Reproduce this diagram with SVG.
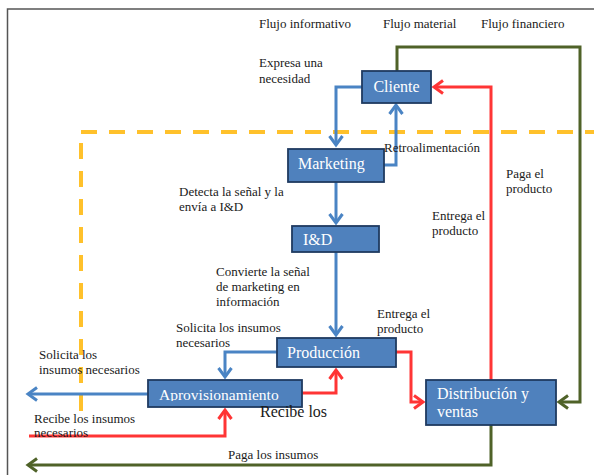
<svg xmlns="http://www.w3.org/2000/svg" width="594" height="475" viewBox="0 0 594 475">
<style>
.lbl{font-family:"Liberation Serif","Times New Roman",serif;font-size:13px;fill:#1a1a1a}
.box{fill:#4F81BD;stroke:#1F3A60;stroke-width:1.8}
.bt{font-family:"Liberation Serif","Times New Roman",serif;font-size:16px;fill:#ffffff}
.c{fill:none;stroke-width:3;stroke-linejoin:miter}
.b{stroke:#4A84C4}
.r{stroke:#FF3535}
.g{stroke:#4F6228}
</style>
<defs>
<marker id="ab" markerUnits="userSpaceOnUse" markerWidth="20" markerHeight="20" orient="auto" overflow="visible"><path d="M-9,-6.5 L0,0 L-9,6.5" fill="none" stroke="#4A84C4" stroke-width="3"/></marker>
<marker id="ar" markerUnits="userSpaceOnUse" markerWidth="20" markerHeight="20" orient="auto" overflow="visible"><path d="M-9,-6.5 L0,0 L-9,6.5" fill="none" stroke="#FF3535" stroke-width="3"/></marker>
<marker id="ag" markerUnits="userSpaceOnUse" markerWidth="20" markerHeight="20" orient="auto" overflow="visible"><path d="M-9,-6.5 L0,0 L-9,6.5" fill="none" stroke="#4F6228" stroke-width="3"/></marker>
<clipPath id="clipA"><rect x="148" y="378" width="156" height="23"/></clipPath>
</defs>
<rect x="7.5" y="9" width="620" height="500" fill="none" stroke="#555" stroke-width="1.5"/>
<g id="boundary">
<path d="M81,132 H594" fill="none" stroke="#FFC12B" stroke-width="4" stroke-dasharray="16 12"/>
<path d="M81,143 V415" fill="none" stroke="#FFC12B" stroke-width="4" stroke-dasharray="16 12"/>
</g>
<g id="headers" class="lbl">
<text x="259" y="28">Flujo informativo</text>
<text x="383" y="28">Flujo material</text>
<text x="481" y="28">Flujo financiero</text>
</g>
<g id="connectors">
<path class="c b" d="M362,87 H336 V145" marker-end="url(#ab)"/>
<path class="c b" d="M384,165 H396 V105" marker-end="url(#ab)"/>
<path class="c b" d="M336,182 V223" marker-end="url(#ab)"/>
<path class="c b" d="M336,252 V335" marker-end="url(#ab)"/>
<path class="c b" d="M277,352 H225 V377" marker-end="url(#ab)"/>
<path class="c b" d="M148,394 H28" marker-end="url(#ab)"/>
<path class="c r" d="M491,380 V87 H434" marker-end="url(#ar)"/>
<path class="c r" d="M29,436 H225 V410" marker-end="url(#ar)"/>
<path class="c r" d="M302,393 H336 V370" marker-end="url(#ar)"/>
<path class="c r" d="M396,352 H411 V402 H423" marker-end="url(#ar)"/>
<path class="c g" d="M397,71 V47 H580 V402 H559" marker-end="url(#ag)"/>
<path class="c g" d="M491,425 V465 H28" marker-end="url(#ag)"/>
</g>
<g id="cliente"><rect class="box" x="362" y="71" width="69" height="32"/><text class="bt" x="396.5" y="92" text-anchor="middle">Cliente</text></g>
<g id="marketing"><rect class="box" x="288" y="149" width="96" height="33"/><text class="bt" x="298" y="169">Marketing</text></g>
<g id="id"><rect class="box" x="292" y="226" width="87" height="26"/><text class="bt" x="303" y="245">I&amp;D</text></g>
<g id="produccion"><rect class="box" x="277" y="338" width="119" height="29"/><text class="bt" x="287" y="358">Producción</text></g>
<g id="aprovisionamiento"><rect class="box" x="148" y="380" width="154" height="27"/><text class="bt" x="159" y="400" clip-path="url(#clipA)" style="font-size:15.5px">Aprovisionamiento</text></g>
<g id="distribucion"><rect class="box" x="426" y="380" width="130" height="45"/><text class="bt" x="437" y="399">Distribución y</text><text class="bt" x="437" y="417">ventas</text></g>
<g id="labels" class="lbl">
<text x="259" y="67">Expresa una</text>
<text x="259" y="83">necesidad</text>
<text x="384" y="152">Retroalimentación</text>
<text x="179" y="196">Detecta la señal y la</text>
<text x="179" y="211">envía a I&amp;D</text>
<text x="506" y="178">Paga el</text>
<text x="506" y="193">producto</text>
<text x="432" y="220">Entrega el</text>
<text x="432" y="235">producto</text>
<text x="216" y="276">Convierte la señal</text>
<text x="216" y="291">de marketing en</text>
<text x="216" y="306">información</text>
<text x="176" y="332">Solicita los insumos</text>
<text x="176" y="347">necesarios</text>
<text x="377" y="318">Entrega el</text>
<text x="377" y="333">producto</text>
<text x="39" y="359">Solicita los</text>
<text x="39" y="374">insumos necesarios</text>
<text x="34" y="423">Recibe los insumos</text>
<text x="34" y="437">necesarios</text>
<text x="260" y="417" style="font-size:16px">Recibe los</text>
<text x="228" y="459">Paga los insumos</text>
</g>
</svg>
